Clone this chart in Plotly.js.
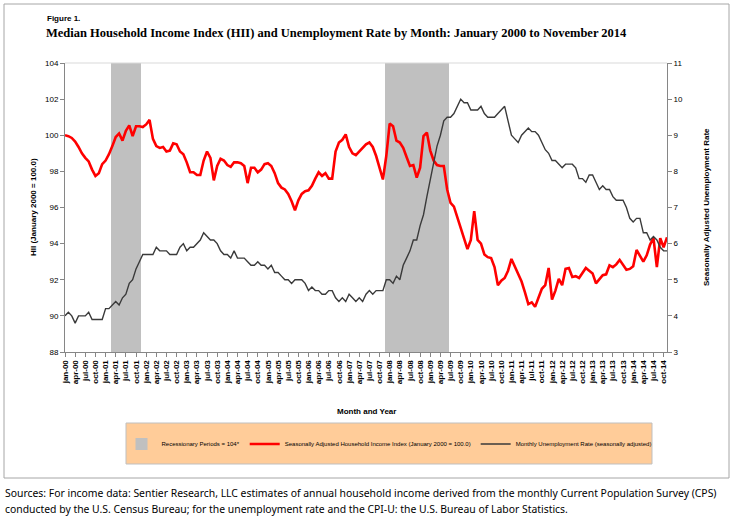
<!DOCTYPE html>
<html>
<head>
<meta charset="utf-8">
<script src="https://cdn.plot.ly/plotly-3.0.1.min.js"></script>
<style>
html,body{margin:0;padding:0;background:#fff;}
#chart{width:736px;height:520px;}
</style>
</head>
<body>
<div id="chart"></div>
<script>
// ---- Data ----
const monthNames = ["jan","feb","mar","apr","may","jun","jul","aug","sep","oct","nov","dec"];
const startYear = 2000;
const nMonths = 179; // Jan 2000 .. Nov 2014

// Seasonally adjusted Household Income Index (Jan 2000 = 100.0)
const hii = [
  100.0, 99.95, 99.85, 99.65, 99.35, 99.0, 98.75, 98.55, 98.1, 97.75, 97.9, 98.4,
  98.6, 98.95, 99.4, 99.9, 100.1, 99.7, 100.25, 100.55, 99.95, 100.5, 100.5, 100.45,
  100.6, 100.85, 99.8, 99.4, 99.3, 99.35, 99.1, 99.15, 99.55, 99.5, 99.1, 98.95,
  98.5, 97.95, 97.95, 97.8, 97.8, 98.6, 99.1, 98.75, 97.5, 98.3, 98.7, 98.6,
  98.35, 98.25, 98.5, 98.5, 98.45, 98.3, 97.35, 98.2, 98.2, 97.95, 98.1, 98.4,
  98.45, 98.3, 97.9, 97.35, 97.1, 97.0, 96.75, 96.35, 95.85, 96.4, 96.75, 96.9,
  96.95, 97.2, 97.6, 97.95, 97.75, 97.9, 97.6, 97.6, 99.1, 99.6, 99.75, 100.05,
  99.35, 99.0, 98.9, 99.1, 99.35, 99.5, 99.6, 99.35, 98.85, 98.15, 97.55, 98.85,
  100.65, 100.5, 99.7, 99.6, 99.3, 98.8, 98.3, 98.35, 97.65, 98.2, 99.95, 100.15,
  99.15, 98.6, 98.35, 98.3, 98.3, 97.0, 96.25, 96.05, 95.45, 94.9, 94.2, 93.7,
  94.2, 95.8, 94.2, 94.0, 93.4, 93.25, 93.2, 92.7, 91.7, 91.95, 92.1, 92.5,
  93.15, 92.7, 92.25, 91.9, 91.3, 90.65, 90.75, 90.5, 91.0, 91.5, 91.7, 92.65,
  90.9, 91.4, 92.05, 91.7, 92.6, 92.65, 92.15, 92.2, 92.1, 92.35, 92.65, 92.5,
  92.35, 91.8, 92.0, 92.25, 92.3, 92.8, 92.7, 92.85, 93.1, 92.85, 92.55, 92.6,
  92.75, 93.65, 93.35, 93.0, 93.35, 93.95, 94.3, 92.7, 94.3, 93.8, 94.35
];

// Monthly unemployment rate (seasonally adjusted), %
const unrate = [
  4.0, 4.1, 4.0, 3.8, 4.0, 4.0, 4.0, 4.1, 3.9, 3.9, 3.9, 3.9,
  4.2, 4.2, 4.3, 4.4, 4.3, 4.5, 4.6, 4.9, 5.0, 5.3, 5.5, 5.7,
  5.7, 5.7, 5.7, 5.9, 5.8, 5.8, 5.8, 5.7, 5.7, 5.7, 5.9, 6.0,
  5.8, 5.9, 5.9, 6.0, 6.1, 6.3, 6.2, 6.1, 6.1, 6.0, 5.8, 5.7,
  5.7, 5.6, 5.8, 5.6, 5.6, 5.6, 5.5, 5.4, 5.4, 5.5, 5.4, 5.4,
  5.3, 5.4, 5.2, 5.2, 5.1, 5.0, 5.0, 4.9, 5.0, 5.0, 5.0, 4.9,
  4.7, 4.8, 4.7, 4.7, 4.6, 4.6, 4.7, 4.7, 4.5, 4.4, 4.5, 4.4,
  4.6, 4.5, 4.4, 4.5, 4.4, 4.6, 4.7, 4.6, 4.7, 4.7, 4.7, 5.0,
  5.0, 4.9, 5.1, 5.0, 5.4, 5.6, 5.8, 6.1, 6.1, 6.5, 6.8, 7.3,
  7.8, 8.3, 8.7, 9.0, 9.4, 9.5, 9.5, 9.6, 9.8, 10.0, 9.9, 9.9,
  9.7, 9.7, 9.7, 9.8, 9.6, 9.5, 9.5, 9.5, 9.6, 9.7, 9.8, 9.4,
  9.0, 8.9, 8.8, 9.0, 9.1, 9.2, 9.1, 9.1, 9.0, 8.8, 8.6, 8.5,
  8.3, 8.3, 8.2, 8.1, 8.2, 8.2, 8.2, 8.1, 7.8, 7.8, 7.7, 7.9,
  7.9, 7.7, 7.5, 7.6, 7.5, 7.5, 7.3, 7.2, 7.2, 7.2, 7.0, 6.7,
  6.6, 6.7, 6.7, 6.3, 6.3, 6.1, 6.2, 6.1, 5.9, 5.8, 5.8
];

// Recession periods (first and last month, inclusive) and their bar height
const recessionPeriods = [["mar-01","nov-01"],["dec-07","jun-09"]];
const recessionLevel = 104;

// ---- Build categories ----
const monthLabels = [];
for (let i = 0; i < nMonths; i++) {
  const y = startYear + Math.floor(i / 12);
  monthLabels.push(monthNames[i % 12] + "-" + String(y % 100).padStart(2, "0"));
}
const xIdx = monthLabels.map((_, i) => i);
const tickVals = xIdx.filter(i => i % 3 === 0);
const tickText = tickVals.map(i => monthLabels[i]);

const recessionY = monthLabels.map(() => null);
recessionPeriods.forEach(([a, b]) => {
  const s = monthLabels.indexOf(a), e = monthLabels.indexOf(b);
  for (let i = s; i <= e; i++) recessionY[i] = recessionLevel;
});

// ---- Layout helpers (pixel -> paper) ----
const L = 65, R = 667, T = 63, B = 352;
const px = v => (v - L) / (R - L);
const py = v => (B - v) / (B - T);

const traces = [
  {
    type: "bar", x: xIdx, y: recessionY, width: 1,
    marker: {color: "#C0C0C0", line: {width: 0}},
    name: "Recessionary Periods = 104*", yaxis: "y", hoverinfo: "skip"
  },
  {
    type: "scatter", mode: "lines", x: xIdx, y: hii,
    line: {color: "#FF0000", width: 2.6},
    name: "Seasonally Adjusted Household Income Index (January 2000 = 100.0)", yaxis: "y"
  },
  {
    type: "scatter", mode: "lines", x: xIdx, y: unrate,
    line: {color: "#3A3A3A", width: 1.4},
    name: "Monthly Unemployment Rate (seasonally adjusted)", yaxis: "y2"
  }
];

const sansFont = "Liberation Sans, Arial, sans-serif";

const layout = {
  width: 736, height: 520,
  paper_bgcolor: "#FFFFFF", plot_bgcolor: "#FFFFFF",
  margin: {l: L, r: 736 - R, t: T, b: 520 - B, pad: 0},
  showlegend: true,
  bargap: 0,
  legend: {
    orientation: "h", x: px(389), y: py(444), xanchor: "center", yanchor: "middle",
    bgcolor: "rgba(0,0,0,0)", borderwidth: 0,
    font: {family: sansFont, size: 6, color: "#000"},
    itemwidth: 30, tracegroupgap: 0
  },
  xaxis: {
    range: [0, nMonths - 1],
    tickmode: "array", tickvals: tickVals, ticktext: tickText,
    tickangle: -90,
    tickfont: {family: sansFont, size: 8, color: "#000", weight: "bold"},
    ticks: "outside", ticklen: 4, tickcolor: "#868686", tickwidth: 1,
    showline: true, linecolor: "#868686", linewidth: 1,
    showgrid: false, zeroline: false, fixedrange: true
  },
  yaxis: {
    range: [88, 104], dtick: 2, tick0: 88,
    tickfont: {family: sansFont, size: 8, color: "#000"},
    ticks: "outside", ticklen: 4, tickcolor: "#868686",
    showline: true, linecolor: "#868686", linewidth: 1,
    showgrid: false, zeroline: false
  },
  yaxis2: {
    range: [3, 11], dtick: 1, tick0: 3,
    overlaying: "y", side: "right",
    tickfont: {family: sansFont, size: 8, color: "#000"},
    ticks: "outside", ticklen: 4, tickcolor: "#868686",
    showline: true, linecolor: "#868686", linewidth: 1,
    showgrid: false, zeroline: false
  },
  shapes: [
    {type: "rect", xref: "paper", yref: "paper", x0: px(4), x1: px(729), y0: py(478), y1: py(4),
     line: {color: "#A6A6A6", width: 1}, fillcolor: "rgba(0,0,0,0)", layer: "below"},
    {type: "line", xref: "paper", yref: "paper", x0: 0, x1: 1, y0: 1, y1: 1,
     line: {color: "#D9D9D9", width: 1}},
    {type: "rect", xref: "paper", yref: "paper", x0: px(126), x1: px(652), y0: py(464), y1: py(423),
     line: {color: "#BFBFBF", width: 1}, fillcolor: "#FFCC99", layer: "below"}
  ],
  annotations: [
    {text: "Figure 1.", xref: "paper", yref: "paper", x: px(45), y: py(18), xanchor: "left", yanchor: "middle",
     showarrow: false, font: {family: sansFont, size: 8, color: "#000", weight: "bold"}},
    {text: "Median Household Income Index (HII) and Unemployment Rate by Month: January 2000 to November 2014",
     xref: "paper", yref: "paper", x: px(44), y: py(33), xanchor: "left", yanchor: "middle",
     showarrow: false, font: {family: "Liberation Serif, Times New Roman, serif", size: 12.5, color: "#000", weight: "bold"}},
    {text: "HII (January 2000 = 100.0)", xref: "paper", yref: "paper", x: px(33), y: py(207),
     xanchor: "center", yanchor: "middle", textangle: -90, showarrow: false,
     font: {family: sansFont, size: 8, color: "#000", weight: "bold"}},
    {text: "Seasonally Adjusted Unemployment Rate", xref: "paper", yref: "paper", x: px(706), y: py(207),
     xanchor: "center", yanchor: "middle", textangle: -90, showarrow: false,
     font: {family: sansFont, size: 8, color: "#000", weight: "bold"}},
    {text: "Month and Year", xref: "paper", yref: "paper", x: px(366), y: py(411),
     xanchor: "center", yanchor: "middle", showarrow: false,
     font: {family: sansFont, size: 8, color: "#000", weight: "bold"}},
    {text: "Sources: For income data: Sentier Research, LLC estimates of annual household income derived from the monthly Current Population Survey (CPS)",
     xref: "paper", yref: "paper", x: px(3), y: py(493), xanchor: "left", yanchor: "middle", showarrow: false,
     font: {family: "Noto Sans, sans-serif", size: 10.4, color: "#000"}},
    {text: "conducted by the U.S. Census Bureau; for the unemployment rate and the CPI-U: the U.S. Bureau of Labor Statistics.",
     xref: "paper", yref: "paper", x: px(3), y: py(509), xanchor: "left", yanchor: "middle", showarrow: false,
     font: {family: "Noto Sans, sans-serif", size: 10.4, color: "#000"}}
  ]
};

Plotly.newPlot("chart", traces, layout, {staticPlot: true, displayModeBar: false});
</script>
</body>
</html>
